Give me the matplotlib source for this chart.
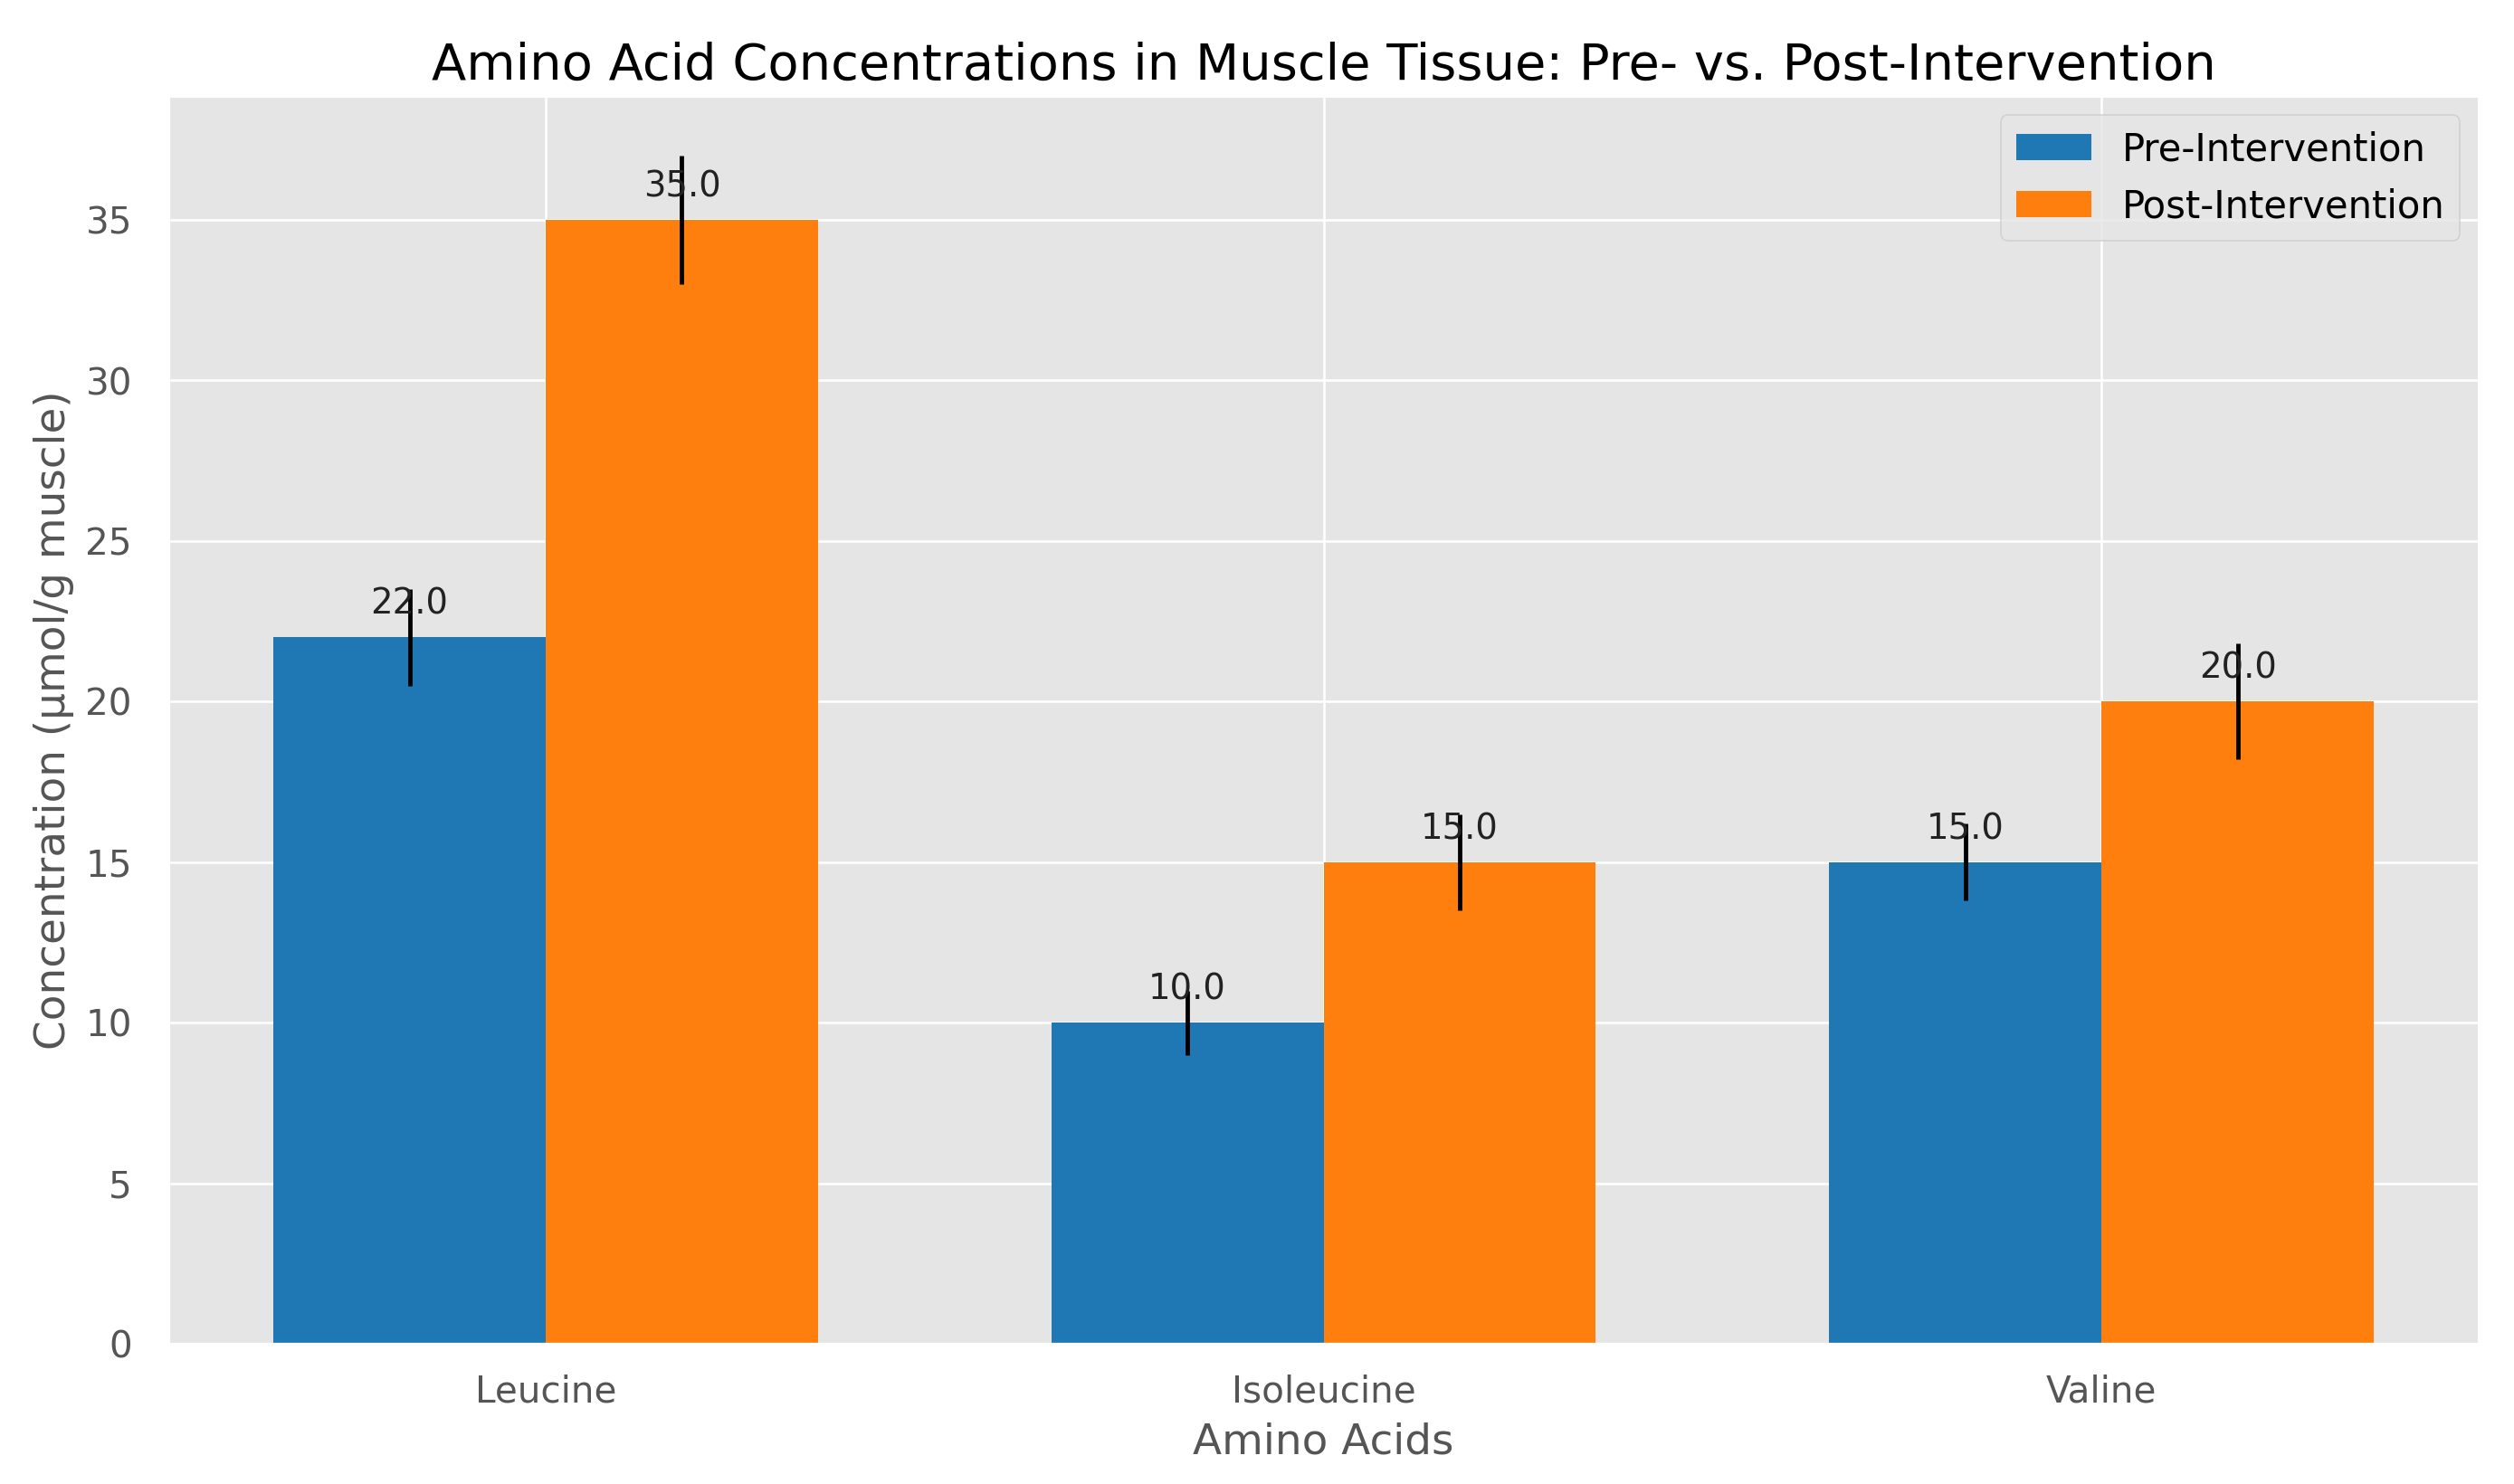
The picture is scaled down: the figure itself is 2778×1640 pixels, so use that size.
import numpy as np
import matplotlib.pyplot as plt

amino_acids = ['Leucine', 'Isoleucine', 'Valine']
pre_values = [22.0, 10.0, 15.0]
post_values = [35.0, 15.0, 20.0]
pre_err = [1.5, 1.0, 1.2]
post_err = [2.0, 1.5, 1.8]

if __name__ == "__main__":
    plt.style.use('ggplot')
    fig, ax = plt.subplots(figsize=(12, 7.085), dpi=231.5)

    x = np.arange(len(amino_acids))
    width = 0.35
    bars_pre = ax.bar(x - width / 2, pre_values, width, yerr=pre_err,
                      color='#1f77b4', label='Pre-Intervention')
    bars_post = ax.bar(x + width / 2, post_values, width, yerr=post_err,
                       color='#ff7f0e', label='Post-Intervention')

    # value labels just above each bar
    for bars in (bars_pre, bars_post):
        for b in bars:
            h = b.get_height()
            ax.text(b.get_x() + b.get_width() / 2, h + 0.5, f'{h:.1f}',
                    ha='center', va='bottom', fontsize=12, color='#222222')

    ax.set_title('Amino Acid Concentrations in Muscle Tissue: Pre- vs. Post-Intervention',
                 fontsize=17.4)
    ax.set_xlabel('Amino Acids', fontsize=14.6)
    ax.set_ylabel('Concentration (µmol/g muscle)', fontsize=14.6)
    ax.set_xticks(x)
    ax.set_xticklabels(amino_acids)
    ax.tick_params(labelsize=12.6, length=0)
    ax.tick_params(axis='x', pad=10.5)
    ax.tick_params(axis='y', pad=12.5)
    ax.legend(loc='upper right', fontsize=13)

    fig.subplots_adjust(left=0.067, right=0.986, top=0.935, bottom=0.0945)
    fig.savefig('out.png')
